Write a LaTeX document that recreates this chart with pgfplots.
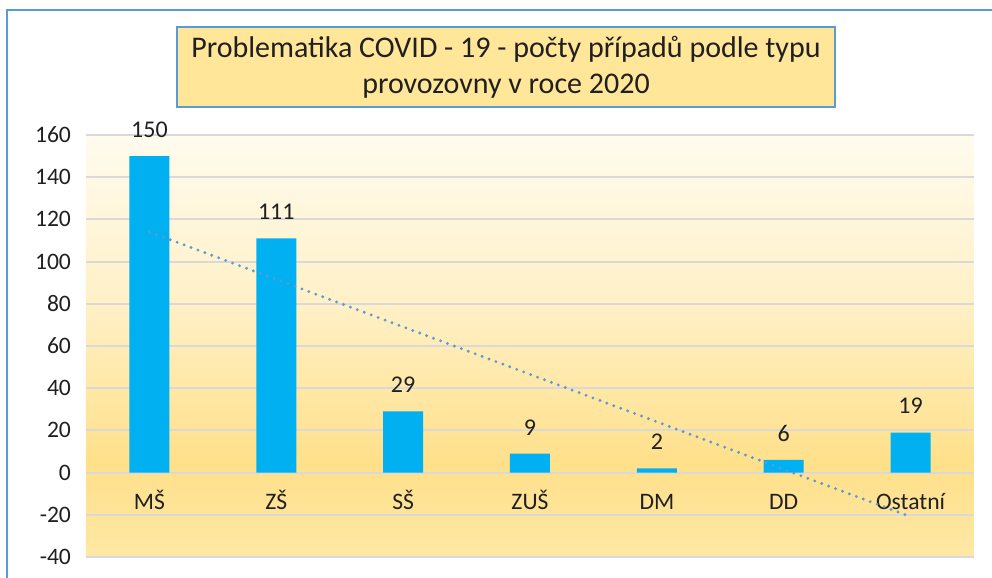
\documentclass[border=0pt]{standalone}
\usepackage{pgfplots}
\pgfplotsset{compat=1.18}
\usepackage{fontspec}
\setmainfont{Carlito}
\definecolor{barblue}{HTML}{00B0F0}
\definecolor{frameblue}{HTML}{5B9BD5}
\definecolor{titlefill}{HTML}{FFE699}
\definecolor{gridgray}{HTML}{D9D9D9}
\definecolor{txt}{HTML}{202020}
\definecolor{bgtop}{HTML}{FFFBEE}
\definecolor{bgmid}{HTML}{FFF0C6}
\definecolor{bgdark}{HTML}{FFE08A}
\definecolor{bgbot}{HTML}{FFE8A6}
\pgfdeclareverticalshading{plotbg}{100bp}{color(0bp)=(bgbot); color(25bp)=(bgbot); color(36bp)=(bgdark); color(55bp)=(bgmid); color(75bp)=(bgtop); color(100bp)=(bgtop)}
\begin{document}
\begin{tikzpicture}
\useasboundingbox (-43pt,-10.5pt) rectangle (453pt,278.5pt);
\draw[frameblue, line width=1pt] (-39.5pt,-40pt) rectangle (480pt,273.5pt);
\begin{axis}[
  at={(0,0)}, anchor=south west,
  width=444pt, height=211pt, scale only axis,
  xmin=0.5, xmax=7.5, ymin=-40, ymax=160,
  ytick distance=20,
  xtick={1,2,3,4,5,6,7},
  xticklabels={MŠ,ZŠ,SŠ,ZUŠ,DM,DD,Ostatní},
  axis line style={draw=none},
  tick style={draw=none},
  ymajorgrids, grid style={gridgray, line width=1pt},
  axis background/.style={shading=plotbg},
  /pgf/number format/assume math mode=true,
  ticklabel style={font=\fontsize{11.8}{13}\selectfont, text=txt},
  yticklabel style={xshift=-4pt},
  xticklabel style={anchor=base, yshift=23.7pt},
  clip=false,
]
\addplot[ybar, bar width=20pt, fill=barblue, draw=none,
  nodes near coords,
  every node near coord/.append style={anchor=base, yshift=9.3pt, font=\fontsize{12}{14}\selectfont, text=txt}]
  coordinates {(1,150) (2,111) (3,29) (4,9) (5,2) (6,6) (7,19)};
\addplot[frameblue, line width=1.6pt, line cap=round, dash pattern=on 0pt off 3.7pt, sharp plot]
  coordinates {(1,114.07) (7,-20.93)};
\end{axis}
\node[fill=titlefill, draw=frameblue, line width=1pt, minimum width=329pt, minimum height=40pt, inner sep=0pt, align=center, font=\fontsize{15}{18}\selectfont, text=txt] at (210pt,245pt) {Problematika COVID - 19 - počty případů podle typu\\provozovny v roce 2020};
\end{tikzpicture}
\end{document}
